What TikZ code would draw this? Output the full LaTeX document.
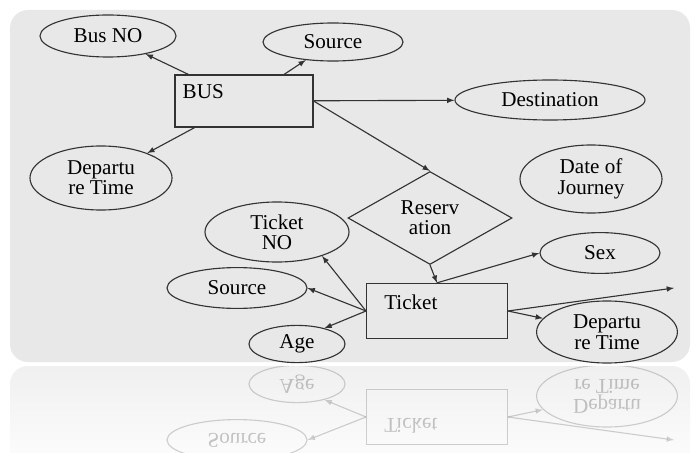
\documentclass[tikz,border=0pt]{standalone}
\usepackage{fontspec}
\setmainfont{Liberation Serif}
\usetikzlibrary{arrows,shapes.geometric}

% lower group, drawn again as the mirror image
\newcommand{\ticketpart}{%
\node[entity, minimum width=3.52cm, minimum height=1.38cm,
  label={[tag, anchor=north west, xshift=0.45cm, yshift=-0.3cm]north west:Ticket}] (ticket) at (437,311) {};
\node[attr, minimum width=3.5cm, minimum height=1.02cm] (srctk) at (237,288) {Source};
\node[attr, minimum width=2.4cm, minimum height=0.93cm] (age) at (297,344) {Age};
\node[attr, minimum width=3.52cm, minimum height=1.55cm] (deptk) at (607,332) {Departu\\re Time};
\coordinate (loose) at (674,288);
\draw[link] (ticket.west) -- (srctk.east);
\draw[link] (ticket.west) -- (age.30);
\draw[link] (ticket.east) -- (deptk.168);
\draw[link] (ticket.east) -- (loose);
}

\begin{document}
\begin{tikzpicture}[x=0.025cm, y=-0.025cm]
\tikzset{line/.style={draw=black!80, thick}}
\tikzset{attr/.style={ellipse, line, inner sep=0pt, align=center,
  font=\fontsize{15}{14.5}\selectfont}}
\tikzset{entity/.style={rectangle, line, inner sep=0pt}}
\tikzset{rel/.style={diamond, line, inner sep=0pt, align=center,
  font=\fontsize{15}{14.5}\selectfont}}
\tikzset{tag/.style={inner sep=0pt, font=\fontsize{15}{14.5}\selectfont}}
\tikzset{link/.style={line, ->, >=latex}}
\useasboundingbox (0,0) rectangle (697,453);
\fill[white] (0,0) rectangle (697,453);
\fill[gray!18, rounded corners=0.45cm] (10,10) rectangle (690,362);
\shade[top color=gray!12, bottom color=white, rounded corners=0.45cm] (10,366) rectangle (690,480);
\node[entity, minimum width=3.45cm, minimum height=1.3cm,
  label={[tag, anchor=north west, xshift=0.2cm, yshift=-0.24cm]north west:BUS}] (bus) at (244,101) {};
\node[attr, minimum width=3.4cm, minimum height=1.05cm] (busno) at (108,36) {Bus NO};
\node[attr, minimum width=3.5cm, minimum height=0.95cm] (srcbus) at (333,42) {Source};
\node[attr, minimum width=4.75cm, minimum height=1cm] (dest) at (550,100) {Destination};
\node[attr, minimum width=3.55cm, minimum height=1.6cm] (depbus) at (101,178) {Departu\\re Time};
\node[attr, minimum width=3.55cm, minimum height=1.7cm] (doj) at (591,179) {Date of\\Journey};
\node[rel, minimum width=4.1cm, minimum height=2.25cm] (rsv) at (430,218) {Reserv\\ation};
\node[attr, minimum width=3.6cm, minimum height=1.5cm] (tno) at (277,232) {Ticket\\NO};
\node[attr, minimum width=3cm, minimum height=1.02cm] (sex) at (600,253) {Sex};
\ticketpart
% bus attributes
\draw[link] (bus) -- (busno);
\draw[link] (bus) -- (srcbus);
\draw[link] (bus) -- (dest);
\draw[link] (bus) -- (depbus);
\draw[link] (bus.east) -- (rsv.north);
\draw[link] (rsv.south) -- (ticket.north);
\draw[link] (ticket.west) -- (tno.-28);
\draw[link] (ticket.north) -- (sex.west);
% mirrored copy below
\begin{scope}
\clip (0,366) rectangle (697,453);
\begin{scope}[shift={(0,728)}, yscale=-1, transform shape, opacity=0.22, name prefix=m-]
\ticketpart
\end{scope}
\end{scope}
\end{tikzpicture}
\end{document}
